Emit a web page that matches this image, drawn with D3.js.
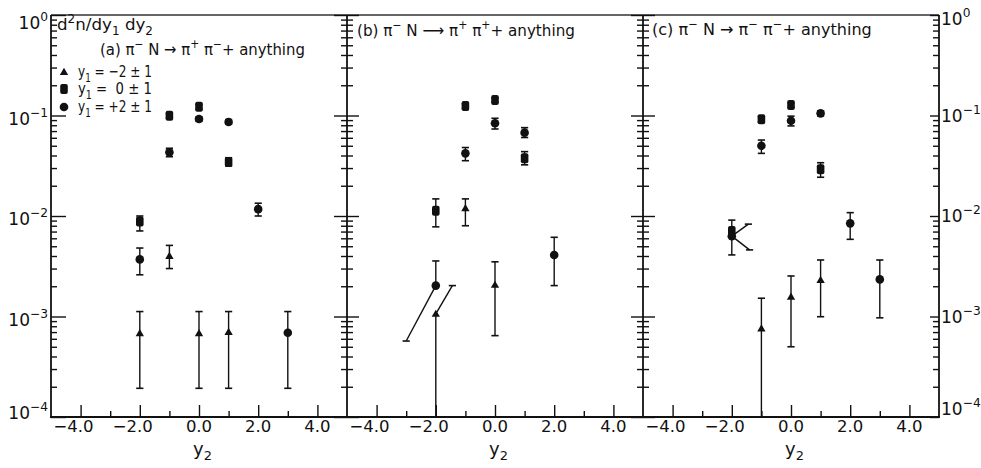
<!DOCTYPE html>
<html>
<head>
<meta charset="utf-8">
<script src="https://cdn.jsdelivr.net/npm/d3@7"></script>
<style>
body { margin: 0; background: #fff; }
svg text { font-family: "DejaVu Sans", "Liberation Sans", sans-serif; fill: #111; white-space: pre; }
</style>
</head>
<body>
<script>
var canvasWidth = 981;
var canvasHeight = 468;

// axis ticks
var xTicksMajor = [-4, -2, 0, 2, 4];
var xTicksMinor = [-3, -1, 1, 3];
var xTickLabels = ["\u22124.0", "\u22122.0", "0.0", "2.0", "4.0"];
var decades = [1, 1e-1, 1e-2, 1e-3, 1e-4];
var decadeExp = ["0", "\u22121", "\u22122", "\u22123", "\u22124"];

// legend (y1 bins)
var legendShapes = ["tri", "sq", "circ"];
var legendLabels = [" = \u22122 \u00b1 1", " =  0 \u00b1 1", " = +2 \u00b1 1"];

// panel titles: [text, sup/sub]
var titleA = [["(a) \u03c0", ""], ["\u2212", "sup"], [" N \u2192 \u03c0", ""], ["+", "sup"], [" \u03c0", ""], ["\u2212", "sup"], ["+ anything", ""]];
var titleB = [["(b) \u03c0", ""], ["\u2212", "sup"], [" N \u27f6 \u03c0", ""], ["+", "sup"], [" \u03c0", ""], ["+", "sup"], ["+ anything", ""]];
var titleC = [["(c) \u03c0", ""], ["\u2212", "sup"], [" N \u2192 \u03c0", ""], ["\u2212", "sup"], [" \u03c0", ""], ["\u2212", "sup"], ["+ anything", ""]];
var yTitle = [["d", ""], ["2", "sup"], ["n/dy", ""], ["1", "sub"], [" dy", ""], ["2", "sub"]];

// ---- panel (a) pi+ pi-
var aTriX = [-2, -1, 0, 1];
var aTriY = [6.8e-4, 4.0e-3, 6.8e-4, 7.0e-4];
var aTriLo = [1.93e-4, 3.0e-3, 1.93e-4, 1.93e-4];
var aTriHi = [1.12e-3, 5.1e-3, 1.12e-3, 1.12e-3];

var aSqX = [-2, -1, 0, 1];
var aSqY = [8.8e-3, 0.0995, 0.122, 0.0345];
var aSqLo = [7.1e-3, 0.094, 0.115, 0.0315];
var aSqHi = [1.0e-2, 0.105, 0.129, 0.038];

var aCircX = [-2, -1, 0, 1, 2, 3];
var aCircY = [3.7e-3, 0.043, 0.0923, 0.0862, 0.0117, 6.9e-4];
var aCircLo = [2.6e-3, 0.0389, 0.0875, 0.082, 1.0e-2, 1.93e-4];
var aCircHi = [4.8e-3, 0.0472, 0.097, 0.091, 1.34e-2, 1.12e-3];

// ---- panel (b) pi+ pi+
var bTriX = [-2, -1, 0];
var bTriY = [1.06e-3, 0.0119, 2.06e-3];
var bTriLo = [1e-4, 8.0e-3, 6.45e-4];
var bTriHi = [2.03e-3, 1.48e-2, 3.5e-3];
var bTriHiX = [-1.44, null, null];   // displaced error arm

var bSqX = [-2, -1, 0, 1];
var bSqY = [0.0113, 0.124, 0.1426, 0.0375];
var bSqLo = [7.8e-3, 0.117, 0.135, 0.0323];
var bSqHi = [1.48e-2, 0.131, 0.150, 0.0437];

var bCircX = [-2, -1, 0, 1, 2];
var bCircY = [2.03e-3, 0.042, 0.0836, 0.0675, 4.09e-3];
var bCircLo = [5.7e-4, 0.0355, 0.0734, 0.0604, 2.03e-3];
var bCircHi = [3.57e-3, 0.048, 0.0938, 0.0757, 6.14e-3];
var bCircLoX = [-3.0, null, null, null, null];

// ---- panel (c) pi- pi-
var cTriX = [-1, 0, 1];
var cTriY = [7.6e-4, 1.57e-3, 2.3e-3];
var cTriLo = [1e-4, 5.0e-4, 9.95e-4];
var cTriHi = [1.52e-3, 2.53e-3, 3.65e-3];

var cSqX = [-2, -1, 0, 1];
var cSqY = [7.1e-3, 0.0917, 0.127, 0.0292];
var cSqLo = [4.1e-3, 0.086, 0.120, 0.0243];
var cSqHi = [9.1e-3, 0.098, 0.134, 0.0339];

var cCircX = [-2, -1, 0, 1, 2, 3];
var cCircY = [6.3e-3, 0.050, 0.0888, 0.105, 8.45e-3, 2.34e-3];
var cCircLo = [4.6e-3, 0.042, 0.0788, 0.099, 5.86e-3, 9.7e-4];
var cCircHi = [8.3e-3, 0.057, 0.0985, 0.111, 1.08e-2, 3.65e-3];
var cCircLoX = [-1.4, null, null, null, null, null];
var cCircHiX = [-1.44, null, null, null, null, null];

var panels = [
	{ title: titleA, titleX: 100, titleY: 55, titleW: 205, series: [
		{ shape: "tri", x: aTriX, y: aTriY, lo: aTriLo, hi: aTriHi },
		{ shape: "sq", x: aSqX, y: aSqY, lo: aSqLo, hi: aSqHi },
		{ shape: "circ", x: aCircX, y: aCircY, lo: aCircLo, hi: aCircHi } ] },
	{ title: titleB, titleX: 357, titleY: 36, titleW: 218, series: [
		{ shape: "tri", x: bTriX, y: bTriY, lo: bTriLo, hi: bTriHi, hiX: bTriHiX },
		{ shape: "sq", x: bSqX, y: bSqY, lo: bSqLo, hi: bSqHi },
		{ shape: "circ", x: bCircX, y: bCircY, lo: bCircLo, hi: bCircHi, loX: bCircLoX } ] },
	{ title: titleC, titleX: 652, titleY: 35, titleW: 220, series: [
		{ shape: "tri", x: cTriX, y: cTriY, lo: cTriLo, hi: cTriHi },
		{ shape: "sq", x: cSqX, y: cSqY, lo: cSqLo, hi: cSqHi },
		{ shape: "circ", x: cCircX, y: cCircY, lo: cCircLo, hi: cCircHi, loX: cCircLoX, hiX: cCircHiX } ] }
];

var plotTop = 15, plotBottom = 417;
var panelLeft = [51, 347, 643];
var panelW = 296;
var ink = "#111";

var svg = d3.select("body").append("svg")
	.attr("width", canvasWidth)
	.attr("height", canvasHeight)
	.style("background", "#fff");

var yScale = d3.scaleLog().domain([1e-4, 1]).range([plotBottom, plotTop]);
var yMinor = yScale.ticks().filter(function(v) {
	return Math.abs(Math.log10(v) - Math.round(Math.log10(v))) > 1e-6; });

// text with super/subscripts, optionally squeezed to a width
function richText(parent, x, y, parts, size, width, anchor) {
	var g = parent.append("g").attr("transform", "translate(" + x + "," + y + ")");
	var t = g.append("text").attr("font-size", size).attr("text-anchor", anchor || "start");
	var shift = 0;
	parts.forEach(function(p) {
		var mode = p[1] || "";
		var target = mode == "sup" ? -0.45 * size : (mode == "sub" ? 0.3 * size : 0);
		t.append("tspan")
			.attr("dy", target - shift)
			.attr("font-size", mode ? size * 0.72 : size)
			.text(p[0]);
		shift = target;
	});
	if (width) {
		var w = t.node().getBBox().width;
		g.attr("transform", "translate(" + x + "," + y + ") scale(" + (width / w) + ",1)");
	}
	return g;
}

function drawMarker(g, shape, cx, cy) {
	if (shape == "tri") {
		g.append("path")
			.attr("d", d3.symbol(d3.symbolTriangle, 30)())
			.attr("transform", "translate(" + cx + "," + (cy + 0.5) + ")")
			.attr("fill", ink);
	} else if (shape == "sq") {
		g.append("rect")
			.attr("x", cx - 3.8).attr("y", cy - 5)
			.attr("width", 7.6).attr("height", 10)
			.attr("rx", 2).attr("fill", ink);
	} else {
		g.append("circle").attr("cx", cx).attr("cy", cy).attr("r", 4.3).attr("fill", ink);
	}
}

function errArm(g, x0, y0, x1, y1, cap) {
	g.append("line")
		.attr("x1", x0).attr("y1", y0).attr("x2", x1).attr("y2", y1)
		.attr("stroke", ink).attr("stroke-width", 1.4);
	if (cap) {
		g.append("line")
			.attr("x1", x1 - 3.6).attr("x2", x1 + 3.6).attr("y1", y1).attr("y2", y1)
			.attr("stroke", ink).attr("stroke-width", 1.6);
	}
}

// ---- frame
var frame = svg.append("g");
var xEnd = panelLeft[2] + panelW;
frame.append("line").attr("x1", panelLeft[0]).attr("x2", xEnd)
	.attr("y1", plotTop).attr("y2", plotTop)
	.attr("stroke", "#333").attr("stroke-width", 1.3);
frame.append("line").attr("x1", panelLeft[0] - 1).attr("x2", xEnd + 1)
	.attr("y1", plotBottom).attr("y2", plotBottom)
	.attr("stroke", ink).attr("stroke-width", 2);
panelLeft.concat([xEnd]).forEach(function(xv) {
	frame.append("line").attr("x1", xv).attr("x2", xv)
		.attr("y1", plotTop).attr("y2", plotBottom)
		.attr("stroke", ink).attr("stroke-width", 1.8);
});

// ---- vertical log axes (ticks only)
function yTicks(xpos, side, majLen, minLen) {
	var ax = side == "right" ? d3.axisRight : d3.axisLeft;
	[[decades, majLen], [yMinor, minLen]].forEach(function(set) {
		svg.append("g")
			.attr("transform", "translate(" + xpos + ",0)")
			.attr("color", ink)
			.call(ax(yScale).tickValues(set[0]).tickSize(set[1]).tickFormat(""))
			.call(function(g) { g.select(".domain").remove(); })
			.selectAll("line").attr("stroke-width", 1.4);
	});
}
yTicks(panelLeft[0], "right", 15, 6);
yTicks(panelLeft[1], "left", 13, 6);
yTicks(panelLeft[1], "right", 12, 6);
yTicks(panelLeft[2], "left", 12, 6);
yTicks(panelLeft[2], "right", 12, 6);
yTicks(xEnd, "left", 9, 6);

// decade labels, left and right
decades.forEach(function(d, i) {
	var yl = yScale(d) + (i == 0 ? 14 : (i == decades.length - 1 ? 2 : 9));
	richText(svg, 48, yl, [["10", ""], [decadeExp[i], "sup"]], 17, null, "end");
	var yr = yScale(d) + (i == 0 ? 10 : (i == decades.length - 1 ? -2 : 6));
	richText(svg, 941, yr, [["10", ""], [decadeExp[i], "sup"]], 17, null, "start");
});

// ---- panels
panels.forEach(function(p, pi) {
	var xScale = d3.scaleLinear().domain([-5, 5]).range([panelLeft[pi], panelLeft[pi] + panelW]);

	[[xTicksMajor, 12], [xTicksMinor, 6]].forEach(function(set) {
		svg.append("g")
			.attr("transform", "translate(0," + plotBottom + ")")
			.attr("color", ink)
			.call(d3.axisTop(xScale).tickValues(set[0]).tickSize(set[1]).tickFormat(""))
			.call(function(g) { g.select(".domain").remove(); })
			.selectAll("line").attr("stroke-width", 1.4);
	});

	svg.append("g").selectAll("text")
		.data(xTicksMajor)
		.enter().append("text")
		.attr("x", function(d) { return xScale(d); })
		.attr("dx", function(d) { return d < 0 ? -7 : 0; })
		.attr("y", 432)
		.attr("text-anchor", "middle")
		.attr("font-size", 16.5)
		.text(function(d, i) { return xTickLabels[i]; });

	richText(svg, xScale(0) - 6, 455, [["y", ""], ["2", "sub"]], 18, null, "start");

	richText(svg, p.titleX, p.titleY, p.title, 16, p.titleW, "start");

	var grp = svg.append("g");
	p.series.forEach(function(s) {
		s.x.forEach(function(xv, i) {
			var cx = xScale(xv), cy = yScale(s.y[i]);
			var hx = (s.hiX && s.hiX[i] != null) ? xScale(s.hiX[i]) : cx;
			var lx = (s.loX && s.loX[i] != null) ? xScale(s.loX[i]) : cx;
			errArm(grp, cx, cy, hx, yScale(s.hi[i]), true);
			errArm(grp, cx, cy, lx, yScale(s.lo[i]), s.lo[i] > 1e-4);
		});
	});
	p.series.forEach(function(s) {
		s.x.forEach(function(xv, i) {
			drawMarker(grp, s.shape, xScale(xv), yScale(s.y[i]));
		});
	});
});

// ---- panel (a) header and legend
richText(svg, 57, 30, yTitle, 16, 96, "start");
var legendY = [72, 89, 107];
legendShapes.forEach(function(sh, i) {
	drawMarker(svg, sh, 64, legendY[i]);
	richText(svg, 78, legendY[i] + 5, [["y", ""], ["1", "sub"], [legendLabels[i], ""]], 16, 74, "start");
});
</script>
</body>
</html>
